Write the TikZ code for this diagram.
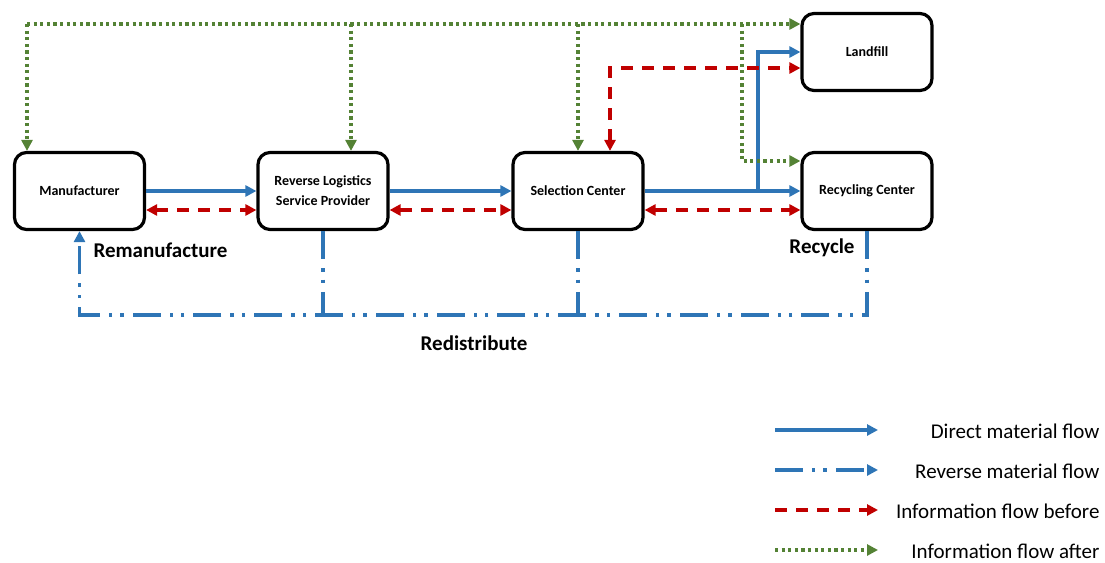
\documentclass[tikz,border=0pt]{standalone}
\usepackage{fontspec}
\setmainfont{Carlito}
\usetikzlibrary{arrows.meta}
\usetikzlibrary{positioning}
\definecolor{mblue}{RGB}{46, 117, 182}
\definecolor{mred}{RGB}{192, 0, 0}
\definecolor{mgreen}{RGB}{84, 130, 53}
\tikzset{unit/.style = {draw, line width = 3.2pt, rounded corners = 12pt, minimum width = 130pt, minimum height = 77pt, align = center, font = \fontsize{14}{20}\selectfont\bfseries}}
\tikzset{tipped/.style = {-{Triangle[length = 11pt, width = 11pt]}}}
\tikzset{twotipped/.style = {{Triangle[length = 11pt, width = 11pt]}-{Triangle[length = 11pt, width = 11pt]}}}
\tikzset{direct/.style = {mblue, line width = 3.4pt}}
\tikzset{reverse/.style = {mblue, line width = 3.4pt, dash pattern = on 28pt off 9pt on 3.4pt off 8pt on 3.4pt off 9pt}}
\tikzset{before/.style = {mred, line width = 3.4pt, dash pattern = on 12pt off 9pt}}
\tikzset{after/.style = {mgreen, line width = 3.4pt, dash pattern = on 3.2pt off 3.4pt}}
\tikzset{flowname/.style = {font = \fontsize{21}{24}\selectfont\bfseries}}
\tikzset{legendtext/.style = {anchor = east, font = \fontsize{21}{24}\selectfont}}

\begin{document}
\begin{tikzpicture}[x = 1pt, y = -1pt]

      \useasboundingbox (0, 0) rectangle (1105, 562);

      \node [unit] (man) at (79.5, 191) {Manufacturer};
      \node [unit] (rlsp) at (323, 191) {Reverse Logistics\\Service Provider};
      \node [unit] (sel) at (578, 191) {Selection Center};
      \node [unit] (rec) at (867, 191) {Recycling Center};
      \node [unit] (land) at (867, 52) {Landfill};

      \draw [direct, tipped] (man.east) -- (rlsp.west);
      \draw [direct, tipped] (rlsp.east) -- (sel.west);
      \draw [direct, tipped] (sel.east) -- (rec.west);
      \coordinate (split) at (758, 191);
      \draw [direct, tipped] (split) |- (land.west);

      \draw [before, twotipped] ([yshift = -19pt]man.east) -- ([yshift = -19pt]rlsp.west);
      \draw [before, twotipped] ([yshift = -19pt]rlsp.east) -- ([yshift = -19pt]sel.west);
      \draw [before, twotipped] ([yshift = -19pt]sel.east) -- ([yshift = -19pt]rec.west);
      \draw [before, twotipped] ([xshift = 32pt]sel.north) |- ([yshift = -16pt]land.west);

      \coordinate (gtop) at (27, 24);
      \coordinate (g2) at (351, 24);
      \coordinate (g3) at (578, 24);
      \coordinate (g4) at (742, 24);
      \draw [after, tipped] (gtop) -- (gtop -| land.west);
      \draw [after, tipped] (gtop) -- (gtop |- man.north);
      \draw [after, tipped] (g2) -- (g2 |- rlsp.north);
      \draw [after, tipped] (g3) -- (sel.north);
      \draw [after, tipped] (g4) |- ([yshift = 30pt]rec.west);

      \coordinate (base) at (0, 315);
      \draw [reverse, tipped] (rec.south) -- (rec.south |- base) -| (man.south);
      \draw [reverse] (rlsp.south) -- (rlsp.south |- base);
      \draw [reverse] (sel.south) -- (sel.south |- base);

      \node [flowname, anchor = west] (reman) at (90, 250) {Remanufacture};
      \node [flowname] (redis) at (474, 343) {Redistribute};
      \node [flowname] (recy) at (822, 248) {Recycle};

      \coordinate (l1) at (775, 430);
      \coordinate (l2) at (775, 470);
      \coordinate (l3) at (775, 510);
      \coordinate (l4) at (775, 550);
      \node [legendtext] (t1) at (1103, 431) {Direct material flow};
      \node [legendtext] (t2) at (1103, 471) {Reverse material flow};
      \node [legendtext] (t3) at (1103, 511) {Information flow before};
      \node [legendtext] (t4) at (1103, 551) {Information flow after};
      \draw [direct, tipped] (l1) -- ++(103, 0);
      \draw [reverse, tipped] (l2) -- ++(103, 0);
      \draw [before, tipped] (l3) -- ++(103, 0);
      \draw [after, tipped] (l4) -- ++(103, 0);

    \end{tikzpicture}
\end{document}
